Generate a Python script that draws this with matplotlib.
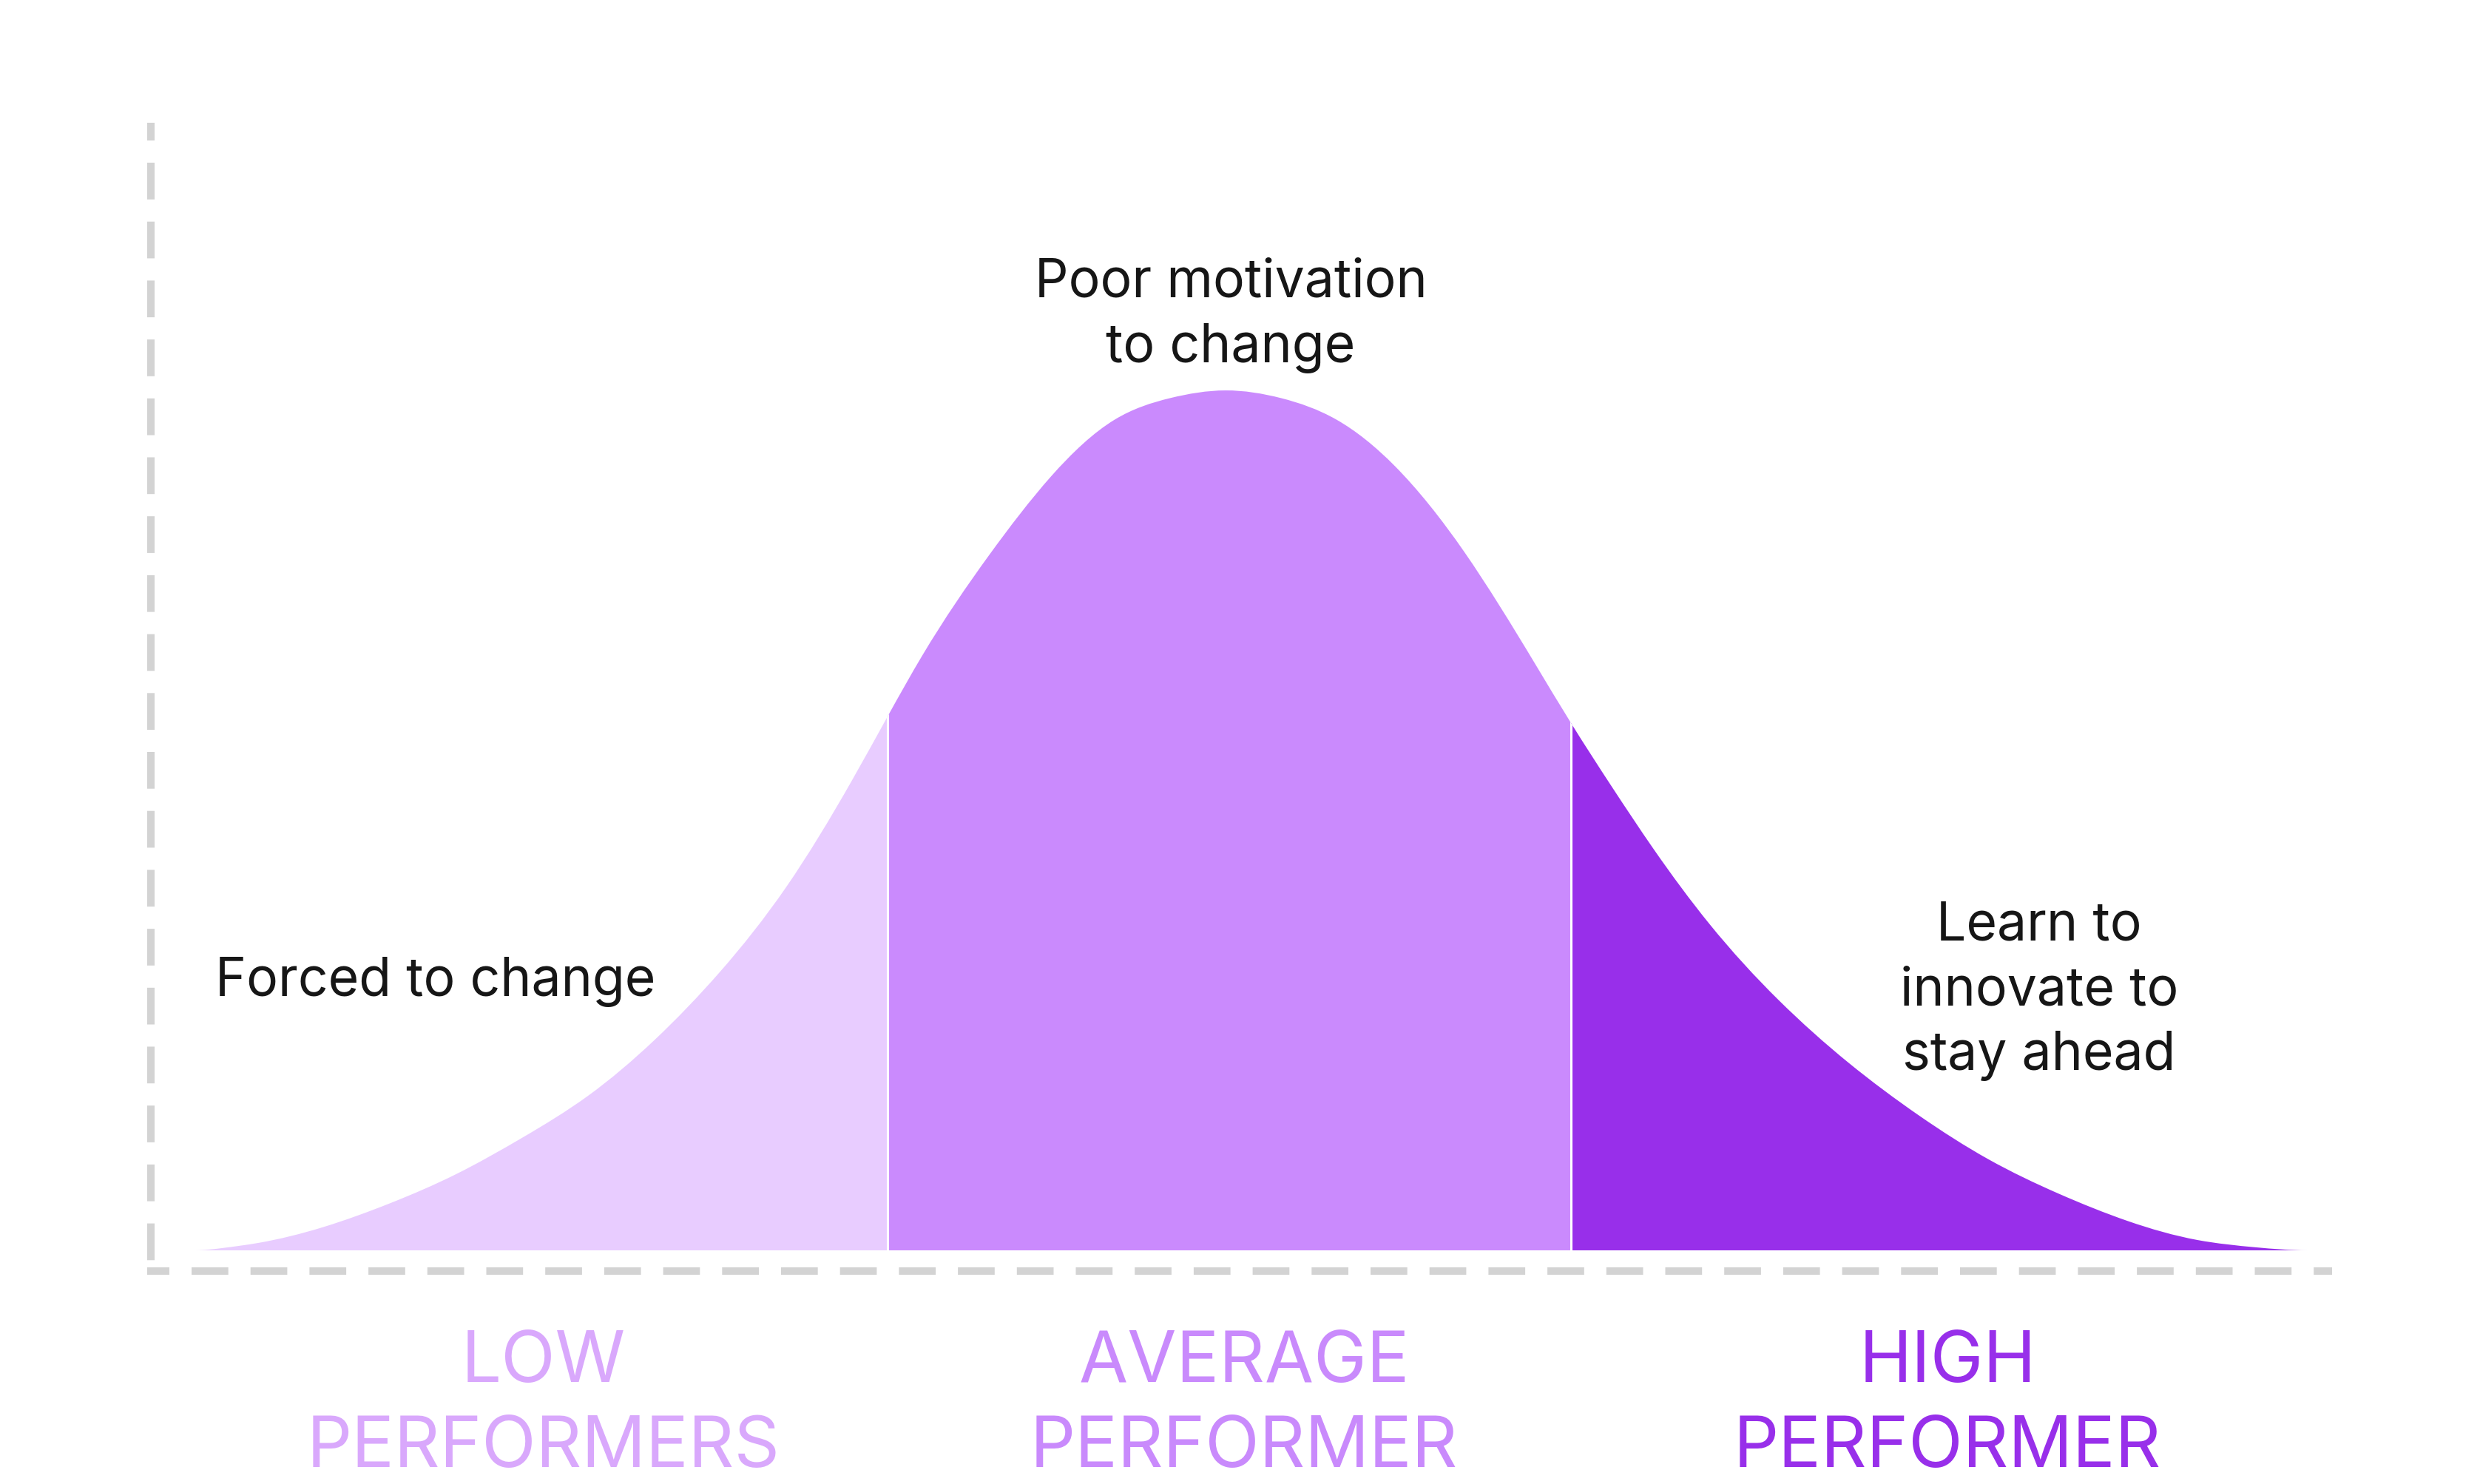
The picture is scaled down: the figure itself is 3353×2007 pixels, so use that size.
import numpy as np
import matplotlib
matplotlib.use("Agg")
import matplotlib.pyplot as plt
from matplotlib.path import Path
from matplotlib.patches import PathPatch, Rectangle

plt.rcParams['font.family'] = ['Inter', 'DejaVu Sans']
plt.rcParams['lines.scale_dashes'] = False

# ---------------- data ----------------
# bell curve: position (in SD units from the peak)
# and relative height (peak = 1)
curve_z = [-2.966, -2.887, -2.783, -2.596, -2.402, -2.213, -2.023, -1.834,
           -1.643, -1.453, -1.264, -1.074, -0.972, -0.872, -0.681, -0.502,
           -0.319, -0.160, 0.0,
           0.160, 0.319, 0.487, 0.687, 0.889, 0.994, 1.111, 1.230, 1.391,
           1.591, 1.791, 1.994, 2.194, 2.396, 2.596, 2.796, 2.964, 3.113]
curve_h = [0.0, 0.0026, 0.0086, 0.027, 0.055, 0.0887, 0.131, 0.1797,
           0.2445, 0.3245, 0.4224, 0.547, 0.621, 0.692, 0.808, 0.900,
           0.966, 0.991, 1.0,
           0.991, 0.966, 0.912, 0.812, 0.683, 0.613, 0.5392, 0.4674, 0.380,
           0.291, 0.2185, 0.157, 0.106, 0.066, 0.034, 0.012, 0.0035, 0.0]
segment_edges = [-2.966, -0.972, 0.994, 3.113]
segment_names = ["LOW\nPERFORMERS", "AVERAGE\nPERFORMER", "HIGH\nPERFORMER"]
segment_fill = ["#E8CCFF", "#CA8AFD", "#982FEA"]
segment_label_color = ["#D9A8FC", "#C98AFC", "#982FEA"]
annotations = ["Forced to change", "Poor motivation\nto change", "Learn to\ninnovate to\nstay ahead"]

# ---------------- layout (pixels of the 3353x2008 canvas) ----------------
W, H, DPI = 3353, 2008, 200
PX_X0, PX_PER_SD = 1657.0, 470.0
PX_BASE, PX_PER_UNIT = 1692.0, 1163.0


def to_data(x, y):
    return (x - PX_X0) / PX_PER_SD, (PX_BASE - y) / PX_PER_UNIT


def spline_slopes(xs, ys):
    """Knot slopes of a clamped (C2) cubic spline with zero end slopes."""
    n = len(xs)
    hs = np.diff(xs)
    d = np.diff(ys) / hs
    A = np.zeros((n, n))
    b = np.zeros(n)
    A[0, 0] = 1.0
    A[-1, -1] = 1.0
    for i in range(1, n - 1):
        A[i, i - 1] = hs[i]
        A[i, i] = 2 * (hs[i - 1] + hs[i])
        A[i, i + 1] = hs[i - 1]
        b[i] = 3 * (hs[i] * d[i - 1] + hs[i - 1] * d[i])
    return np.linalg.solve(A, b)


def smooth_path(xs, ys):
    """Closed Bezier path through the given points, down to the baseline."""
    xs = np.asarray(xs, float)
    ys = np.asarray(ys, float)
    m = spline_slopes(xs, ys)
    verts = [(xs[0], ys[0])]
    codes = [Path.MOVETO]
    for i in range(len(xs) - 1):
        dx = xs[i + 1] - xs[i]
        verts += [(xs[i] + dx / 3, ys[i] + m[i] * dx / 3),
                  (xs[i + 1] - dx / 3, ys[i + 1] - m[i + 1] * dx / 3),
                  (xs[i + 1], ys[i + 1])]
        codes += [Path.CURVE4] * 3
    verts.append((xs[0], ys[0]))
    codes.append(Path.LINETO)
    verts.append((xs[0], ys[0]))
    codes.append(Path.CLOSEPOLY)
    return Path(verts, codes)


fig = plt.figure(figsize=(W / DPI, H / DPI), dpi=DPI)
ax = fig.add_axes([0, 0, 1, 1])
x0, y1 = to_data(0, 0)
x1, y0 = to_data(W, H)
ax.set_xlim(x0, x1)
ax.set_ylim(y0, y1)
ax.axis('off')

bell = smooth_path(curve_z, curve_h)

# filled segments (the bell clipped to each band)
for i in range(3):
    patch = PathPatch(bell, facecolor=segment_fill[i], lw=0, zorder=2)
    ax.add_patch(patch)
    clip = Rectangle((segment_edges[i], -0.05), segment_edges[i + 1] - segment_edges[i],
                     1.2, transform=ax.transData)
    patch.set_clip_path(clip)

# white separators, clipped to the bell
clip_bell = PathPatch(bell, transform=ax.transData)
seps = ax.vlines(segment_edges[1:3], 0, 1.1, color='white', lw=1.1, zorder=3)
seps.set_clip_path(clip_bell)

# dashed axes
pt = 72.0 / DPI
dash_v = (25.7 * pt, (49.7 * pt, 30.0 * pt))
dash_h = (19.7 * pt, (49.7 * pt, 30.0 * pt))
vx, vy_top = to_data(204, 167)
_, vy_bot = to_data(204, 1725)
ax.plot([vx, vx], [vy_top, vy_bot], color='#D3D3D3', lw=10 * pt,
        linestyle=dash_v, zorder=1)
hx0, hy = to_data(199, 1720)
hx1, _ = to_data(3153, 1720)
ax.plot([hx0, hx1], [hy, hy], color='#D3D3D3', lw=10 * pt,
        linestyle=dash_h, zorder=1)

# annotations
ann_fs = 71.5 * pt
ann_color = '#161616'
ann_pos = [(589, [1347]), (1664, [401, 490]), (2757, [1272, 1359, 1447])]
for text, (cx, baselines) in zip(annotations, ann_pos):
    for line, by in zip(text.split("\n"), baselines):
        tx, ty = to_data(cx, by)
        ax.text(tx, ty, line, ha='center', va='baseline', fontsize=ann_fs,
                color=ann_color, zorder=5)

# segment labels
lab_fs = 96 * pt
lab_pos = [735, 1682, 2633]
lab_baselines = [1869, 1984]
for name, cx, col in zip(segment_names, lab_pos, segment_label_color):
    for line, by in zip(name.split("\n"), lab_baselines):
        tx, ty = to_data(cx, by)
        ax.text(tx, ty, line, ha='center', va='baseline', fontsize=lab_fs,
                color=col, zorder=5)

fig.savefig("out.png", dpi=DPI, facecolor='white')
